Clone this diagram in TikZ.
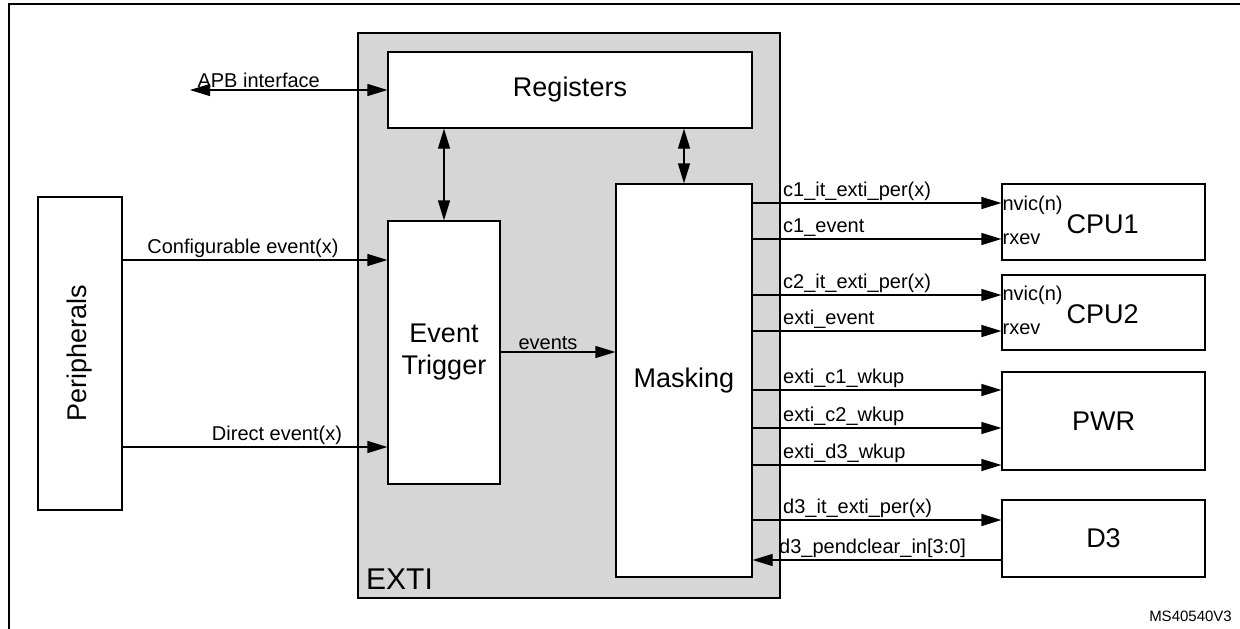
\documentclass[tikz,border=0pt]{standalone}
\usepackage{fontspec}
\setmainfont{Liberation Sans}
\usetikzlibrary{arrows.meta,positioning}

\tikzset{
    blk/.style = {draw, line width=1.2pt, fill=white, inner sep=0pt},
    big/.style = {font=\fontsize{27}{32}\selectfont},
    lbl/.style = {font=\fontsize{20}{24}\selectfont, inner sep=2pt},
    sig/.style = {line width=1.2pt, -{Triangle[length=20pt,width=12pt]}},
    bus/.style = {line width=1.2pt, {Triangle[length=20pt,width=12pt]}-{Triangle[length=20pt,width=12pt]}},
}

\begin{document}
\begin{tikzpicture}[x=1pt, y=-1pt]
    \useasboundingbox (0, 0) rectangle (1240, 629);
    \draw[line width=2.5pt] (9, 629) -- (9, 4) -- (1240, 4);

    % EXTI block
    \draw[line width=1.2pt, fill=black!16] (358, 33) rectangle (780, 598);
    \node[font=\fontsize{30}{36}\selectfont, anchor=south west, inner sep=2pt] (exti) at (364, 592) {EXTI};

    \node[blk, big, minimum width=364pt, minimum height=76pt] (reg) at (570, 90) {Registers};
    \node[blk, big, minimum width=112pt, minimum height=263pt, align=center] (trig) at (444, 352.5) {Event\\Trigger};
    \node[blk, big, minimum width=136pt, minimum height=393pt] (mask) at (684, 380.5) {Masking};
    \node[blk, minimum width=84pt, minimum height=313pt] (peri) at (80, 353.5) {};
    \node[big, rotate=90] at (peri) {Peripherals};

    \node[blk, big, minimum width=203pt, minimum height=76pt] (cpu1) at (1103.5, 222) {};
    \node[blk, big, minimum width=203pt, minimum height=75pt] (cpu2) at (1103.5, 312.5) {};
    \node[blk, big, minimum width=203pt, minimum height=98pt] (pwr) at (1103.5, 421) {PWR};
    \node[blk, big, minimum width=203pt, minimum height=77pt] (d3) at (1103.5, 538.5) {D3};
    \foreach \c/\t in {cpu1/CPU1, cpu2/CPU2} {
        \node[big, anchor=west, inner sep=1pt] at ([xshift=64pt, yshift=-2pt]\c.west) {\t};
        \node[lbl, anchor=west, inner sep=1pt] at ([yshift=17pt]\c.west) {nvic(n)};
        \node[lbl, anchor=west, inner sep=1pt] at ([yshift=-17pt]\c.west) {rxev};
    }

    % APB and internal buses
    \coordinate (apb) at (190, 90);
    \draw[bus] (apb) -- (reg.west) node[lbl, above, midway, xshift=-30pt] {APB interface};
    \draw[bus] (reg.south -| trig) -- (trig.north);
    \draw[bus] (reg.south -| mask) -- (mask.north);

    % inputs
    \draw[sig] (peri.east |- 0, 260) -- (trig.west |- 0, 260)
        node[lbl, above, midway, xshift=-12pt] {Configurable event(x)};
    \draw[sig] (peri.east |- 0, 447) -- (trig.west |- 0, 447)
        node[lbl, above, midway, xshift=22pt] {Direct event(x)};
    \draw[sig] (trig.east |- 0, 352) -- (mask.west |- 0, 352)
        node[lbl, above, midway, xshift=-10pt] {events};

    % outputs
    \foreach \y/\d/\t in {203/cpu1/c1\_it\_exti\_per(x), 239/cpu1/c1\_event,
        295/cpu2/c2\_it\_exti\_per(x), 331/cpu2/exti\_event,
        390/pwr/exti\_c1\_wkup, 428/pwr/exti\_c2\_wkup, 465/pwr/exti\_d3\_wkup,
        520/d3/d3\_it\_exti\_per(x)} {
        \draw[sig] (mask.east |- 0, \y) -- (\d.west |- 0, \y);
        \node[lbl, anchor=south west] at (781, \y) {\t};
    }
    \draw[sig] (d3.west |- 0, 560) -- (mask.east |- 0, 560);
    \node[lbl, anchor=south west] at (777, 560) {d3\_pendclear\_in[3:0]};

    \node[anchor=south east, inner sep=2pt, font=\fontsize{15}{18}\selectfont] (ref) at (1234, 624) {MS40540V3};
\end{tikzpicture}
\end{document}
